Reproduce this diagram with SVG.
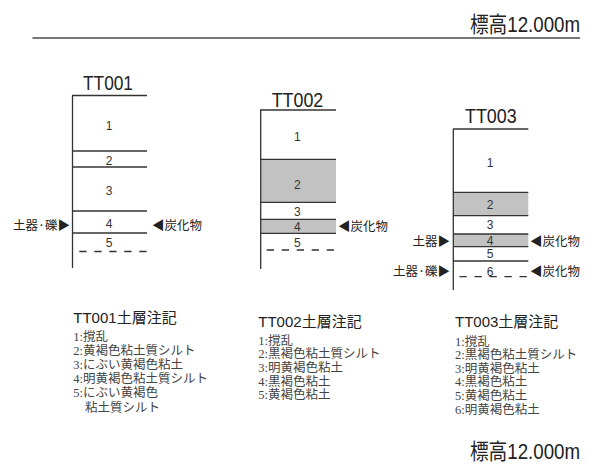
<svg xmlns="http://www.w3.org/2000/svg" width="596" height="464" viewBox="0 0 596 464">
<style>
.ln{stroke:#333;stroke-width:1.3;fill:none}
.dash{stroke:#333;stroke-width:1.3;fill:none;stroke-dasharray:7.3 7.7}
.fillg{fill:#c2c2c2;stroke:none}
.num{font-family:"Liberation Sans",Arial,sans-serif;font-size:12px;fill:#333;text-anchor:middle}
.ttl{font-family:"Liberation Sans",Arial,sans-serif;font-size:20px;fill:#222}
.mk{font-family:"Noto Sans CJK JP",sans-serif;font-size:12.5px;fill:#222}
.nt{font-family:"Liberation Sans","Noto Sans CJK JP",sans-serif;font-size:15px;fill:#222}
.nl{font-family:"Liberation Serif","Noto Sans CJK JP",serif;font-size:12.5px;fill:#444}
.elev{font-family:"Liberation Sans","Noto Sans CJK JP",sans-serif;font-size:22px;fill:#222;text-anchor:end}
</style>

<g id="elevation-top">
<text class="elev" transform="translate(580,31.5) scale(0.85,1)">標高12.000m</text>
<line x1="32.5" y1="38" x2="580" y2="38" stroke="#777" stroke-width="2"/>
</g>

<g id="TT001">
<text class="ttl" x="83" y="89.5" textLength="50" lengthAdjust="spacingAndGlyphs">TT001</text>
<line class="ln" x1="72.5" y1="95.5" x2="72.5" y2="268"/>
<line class="ln" x1="72" y1="95.5" x2="147" y2="95.5"/>
<line class="ln" x1="72" y1="151" x2="147" y2="151"/>
<line class="ln" x1="72" y1="167" x2="147" y2="167"/>
<line class="ln" x1="72" y1="211" x2="147" y2="211"/>
<line class="ln" x1="72" y1="233" x2="147" y2="233"/>
<line class="dash" x1="79.3" y1="251.5" x2="147.5" y2="251.5"/>
<text class="num" x="109" y="129.5">1</text>
<text class="num" x="109" y="164.5">2</text>
<text class="num" x="109" y="194.5">3</text>
<text class="num" x="109" y="228">4</text>
<text class="num" x="109" y="246.5">5</text>
<text class="mk" x="70" y="229.5" text-anchor="end">土器·礫▶</text>
<text class="mk" x="152" y="229.5">◀炭化物</text>
</g>

<g id="TT002">
<text class="ttl" x="271.7" y="106.7" textLength="51.6" lengthAdjust="spacingAndGlyphs">TT002</text>
<rect class="fillg" x="260.7" y="159.3" width="75.3" height="43"/>
<rect class="fillg" x="260.7" y="219.3" width="75.3" height="14"/>
<line class="ln" x1="260.7" y1="110" x2="260.7" y2="269"/>
<line class="ln" x1="260" y1="110" x2="336" y2="110"/>
<line class="ln" x1="260" y1="159.3" x2="336" y2="159.3"/>
<line class="ln" x1="260" y1="202.3" x2="336" y2="202.3"/>
<line class="ln" x1="260" y1="219.3" x2="336" y2="219.3"/>
<line class="ln" x1="260" y1="233.3" x2="336" y2="233.3"/>
<line class="dash" x1="266.7" y1="250" x2="334" y2="250"/>
<text class="num" x="297.3" y="141.2">1</text>
<text class="num" x="297.3" y="188.5">2</text>
<text class="num" x="297.3" y="216">3</text>
<text class="num" x="297.3" y="230.5">4</text>
<text class="num" x="297.3" y="246.5">5</text>
<text class="mk" x="338" y="230.5">◀炭化物</text>
</g>

<g id="TT003">
<text class="ttl" x="465" y="123.3" textLength="51.7" lengthAdjust="spacingAndGlyphs">TT003</text>
<rect class="fillg" x="453.3" y="192.3" width="75" height="23.4"/>
<rect class="fillg" x="453.3" y="234" width="75" height="12.7"/>
<line class="ln" x1="453.3" y1="129" x2="453.3" y2="290"/>
<line class="ln" x1="453" y1="129" x2="528.3" y2="129"/>
<line class="ln" x1="453" y1="192.3" x2="528.3" y2="192.3"/>
<line class="ln" x1="453" y1="215.7" x2="528.3" y2="215.7"/>
<line class="ln" x1="453" y1="234" x2="528.3" y2="234"/>
<line class="ln" x1="453" y1="246.7" x2="528.3" y2="246.7"/>
<line class="ln" x1="453" y1="261" x2="528.3" y2="261"/>
<line class="dash" x1="459.5" y1="276.7" x2="528.3" y2="276.7"/>
<text class="num" x="490" y="166.5">1</text>
<text class="num" x="490" y="208.5">2</text>
<text class="num" x="490" y="228.5">3</text>
<text class="num" x="490" y="245">4</text>
<text class="num" x="490" y="258">5</text>
<text class="num" x="490" y="276">6</text>
<text class="mk" x="450" y="246.2" text-anchor="end">土器▶</text>
<text class="mk" x="530" y="246.2">◀炭化物</text>
<text class="mk" x="450" y="276.2" text-anchor="end">土器·礫▶</text>
<text class="mk" x="530" y="276.2">◀炭化物</text>
</g>

<g id="notes-TT001">
<text class="nt" x="73.3" y="323.3">TT001土層注記</text>
<text class="nl" x="73.3" y="340.5">1:撹乱</text>
<text class="nl" x="73.3" y="354.7">2:黄褐色粘土質シルト</text>
<text class="nl" x="73.3" y="368.9">3:にぶい黄褐色粘土</text>
<text class="nl" x="73.3" y="383.1">4:明黄褐色粘土質シルト</text>
<text class="nl" x="73.3" y="397.3">5:にぶい黄褐色</text>
<text class="nl" x="85" y="411.5">粘土質シルト</text>
</g>

<g id="notes-TT002">
<text class="nt" x="258.3" y="326.7">TT002土層注記</text>
<text class="nl" x="258.3" y="344.8">1:撹乱</text>
<text class="nl" x="258.3" y="358.4">2:黒褐色粘土質シルト</text>
<text class="nl" x="258.3" y="372">3:明黄褐色粘土</text>
<text class="nl" x="258.3" y="385.6">4:黒褐色粘土</text>
<text class="nl" x="258.3" y="399.2">5:黄褐色粘土</text>
</g>

<g id="notes-TT003">
<text class="nt" x="455" y="327.3">TT003土層注記</text>
<text class="nl" x="455" y="345.6">1:撹乱</text>
<text class="nl" x="455" y="359.2">2:黒褐色粘土質シルト</text>
<text class="nl" x="455" y="372.8">3:明黄褐色粘土</text>
<text class="nl" x="455" y="386.4">4:黒褐色粘土</text>
<text class="nl" x="455" y="400">5:黄褐色粘土</text>
<text class="nl" x="455" y="413.6">6:明黄褐色粘土</text>
</g>

<g id="elevation-bottom">
<text class="elev" transform="translate(580,459) scale(0.85,1)">標高12.000m</text>
</g>
</svg>
